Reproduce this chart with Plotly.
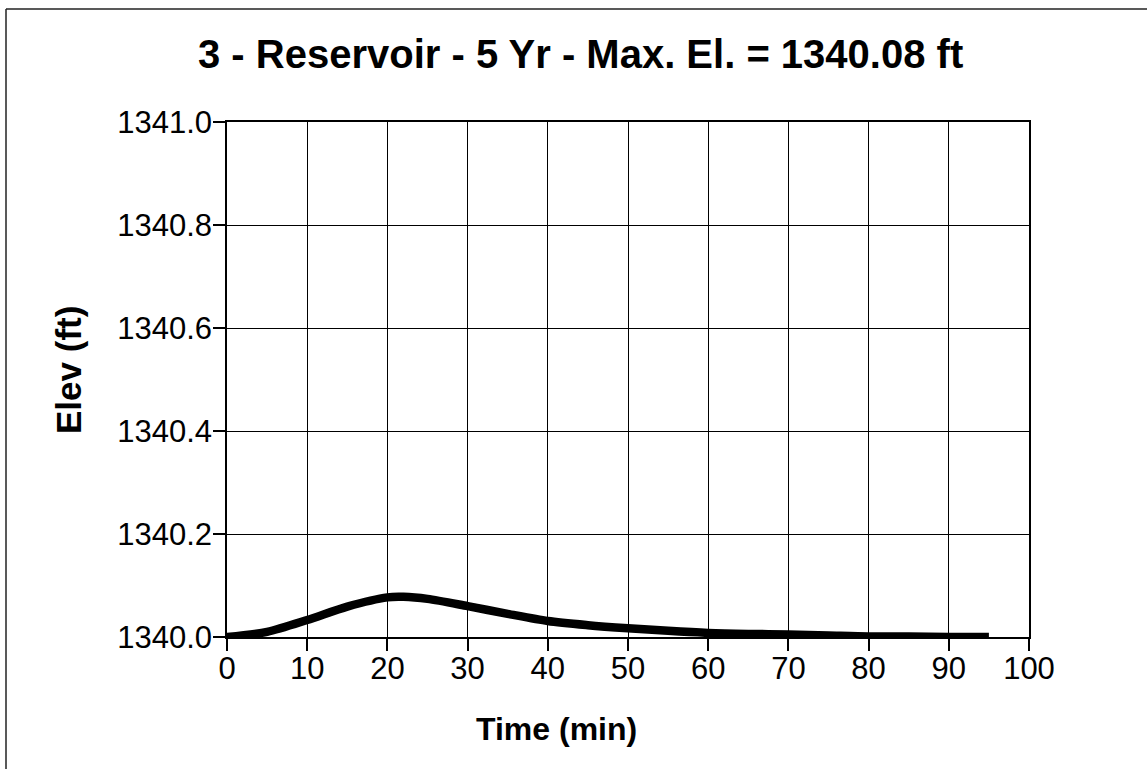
import plotly.graph_objects as go

# Data
time_min = [0, 5, 10, 15, 20, 22, 25, 30, 35, 40, 45, 50, 55, 60, 65, 70, 75, 80, 85, 90, 95]
elev_ft = [1340.000, 1340.010, 1340.033, 1340.059, 1340.077, 1340.078, 1340.074, 1340.060,
           1340.045, 1340.031, 1340.023, 1340.017, 1340.012, 1340.008, 1340.006, 1340.005,
           1340.003, 1340.001, 1340.001, 1340.000, 1340.000]
x_ticks = [0, 10, 20, 30, 40, 50, 60, 70, 80, 90, 100]
y_ticks = [1340.0, 1340.2, 1340.4, 1340.6, 1340.8, 1341.0]
y_tick_text = ["1340.0", "1340.2", "1340.4", "1340.6", "1340.8", "1341.0"]

title_text = "3 - Reservoir - 5 Yr - Max. El. = 1340.08 ft"
x_title = "Time (min)"
y_title = "Elev (ft)"

FONT = "Liberation Sans, Arial, sans-serif"

fig = go.Figure()
fig.add_trace(go.Scatter(
    x=time_min, y=elev_ft, mode="lines",
    line=dict(color="black", width=8.5, shape="spline", smoothing=0.8),
    showlegend=False, hoverinfo="skip",
))

W, H = 1147, 769
L, R, T, B = 227, 118, 122, 132
pw, ph = W - L - R, H - T - B

def px_x(px):
    return (px - L) / pw

def px_y(py):
    return (H - B - py) / ph

axis_common = dict(
    showgrid=True, gridcolor="black", gridwidth=1,
    showline=True, linecolor="black", linewidth=1.5, mirror=True,
    ticks="outside", ticklen=12, tickwidth=1.5, tickcolor="black",
    zeroline=False,
    tickfont=dict(family=FONT, size=31, color="black"),
)

fig.update_xaxes(range=[0, 100], tickvals=x_ticks, ticklabelstandoff=-9, **axis_common)
fig.update_yaxes(range=[1340.0, 1341.0], tickvals=y_ticks, ticktext=y_tick_text,
                 ticklabelstandoff=-5, **axis_common)

fig.update_layout(
    width=W, height=H,
    margin=dict(l=L, r=R, t=T, b=B, autoexpand=False),
    paper_bgcolor="white", plot_bgcolor="white",
    font=dict(family=FONT, color="black"),
    annotations=[
        dict(text="<b>" + title_text + "</b>", xref="paper", yref="paper",
             x=px_x(580), y=px_y(54), xanchor="center", yanchor="middle",
             showarrow=False, font=dict(family=FONT, size=40, color="black")),
        dict(text="<b>" + x_title + "</b>", xref="paper", yref="paper",
             x=px_x(556), y=px_y(729), xanchor="center", yanchor="middle",
             showarrow=False, font=dict(family=FONT, size=32, color="black")),
        dict(text="<b>" + y_title + "</b>", xref="paper", yref="paper",
             x=px_x(68), y=px_y(370), xanchor="center", yanchor="middle",
             textangle=-90, showarrow=False,
             font=dict(family=FONT, size=35, color="black")),
    ],
    shapes=[
        dict(type="line", xref="paper", yref="paper",
             x0=px_x(6), x1=px_x(1160), y0=px_y(9), y1=px_y(9),
             line=dict(color="#222", width=1.5)),
        dict(type="line", xref="paper", yref="paper",
             x0=px_x(6), x1=px_x(6), y0=px_y(9), y1=px_y(780),
             line=dict(color="#222", width=1.5)),
    ],
)

fig.write_html("out.html", config={"displayModeBar": False},
               post_script="document.body.style.margin='0';")
